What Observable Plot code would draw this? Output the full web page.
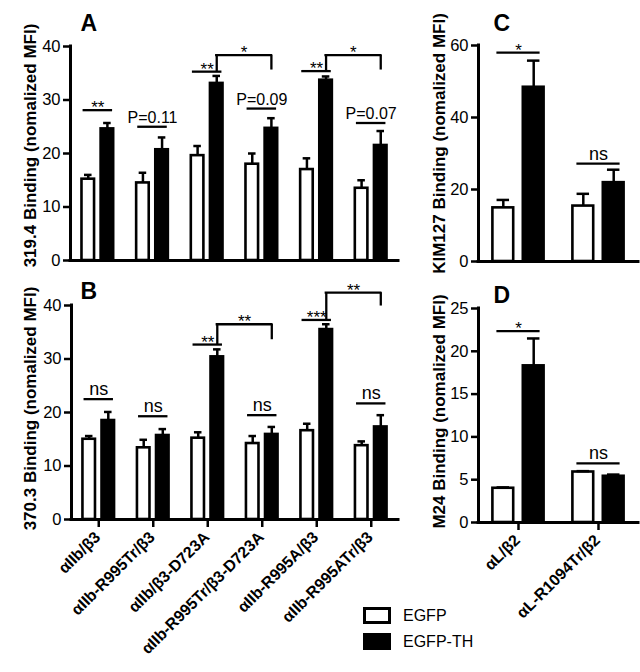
<!DOCTYPE html>
<html>
<head>
<meta charset="utf-8">
<script src="https://cdn.jsdelivr.net/npm/d3@7"></script>
<script src="https://cdn.jsdelivr.net/npm/@observablehq/plot@0.6"></script>
<style>
  html, body { margin: 0; padding: 0; background: #fff; }
  #fig { position: relative; width: 640px; height: 672px; font-family: "Liberation Sans", Arial, sans-serif; overflow: hidden; }
  #fig svg { position: absolute; }
  .legend { position: absolute; left: 363px; top: 607px; font-size: 16px; color: #000; }
  .legend .row { display: flex; align-items: center; height: 17px; margin-bottom: 9px; }
  .legend .sw { width: 28px; height: 17px; box-sizing: border-box; border: 3px solid #000; margin-right: 12px; }
</style>
</head>
<body>
<div id="fig"></div>
<script>
// ---------- data ----------
const groupsAB = ["αIIb/β3", "αIIb-R995Tr/β3", "αIIb/β3-D723A", "αIIb-R995Tr/β3-D723A", "αIIb-R995A/β3", "αIIb-R995ATr/β3"];
const groupsCD = ["αL/β2", "αL-R1094Tr/β2"];
const seriesNames = ["EGFP", "EGFP-TH"];

// Panel A: 319.4 binding
const A_egfp    = [15.2, 14.5, 19.6, 18.0, 17.0, 13.5];
const A_egfpErr = [0.8, 1.9, 1.8, 2.0, 2.1, 1.5];
const A_th      = [24.6, 20.7, 33.1, 24.7, 33.7, 21.5];
const A_thErr   = [1.1, 2.3, 1.4, 1.9, 0.7, 2.7];
const A_sigLabel = ["**", "P=0.11", "**", "P=0.09", "**", "P=0.07"];
const A_sigY     = [28.1, 25.0, 35.3, 28.4, 35.4, 25.7];
const A_brFrom = [2, 4], A_brTo = [3, 5], A_brLabel = ["*", "*"], A_brTop = [38.4, 38.4], A_brRightBottom = [35.6, 35.6];
const A_yTicks = [0, 10, 20, 30, 40];

// Panel B: 370.3 binding
const B_egfp    = [15.0, 13.4, 15.2, 14.2, 16.6, 13.8];
const B_egfpErr = [0.6, 1.5, 1.1, 1.4, 1.3, 0.8];
const B_th      = [18.5, 15.7, 30.4, 15.9, 35.5, 17.3];
const B_thErr   = [1.6, 1.2, 1.4, 1.4, 1.0, 2.2];
const B_sigLabel = ["ns", "ns", "**", "ns", "***", "ns"];
const B_sigY     = [22.5, 19.3, 32.7, 19.5, 37.3, 21.7];
const B_brFrom = [2, 4], B_brTo = [3, 5], B_brLabel = ["**", "**"], B_brTop = [36.5, 42.4], B_brRightBottom = [33.6, 39.9];
const B_yTicks = [0, 10, 20, 30, 40];

// Panel C: KIM127 binding
const C_egfp    = [14.9, 15.4];
const C_egfpErr = [2.2, 3.4];
const C_th      = [48.4, 21.9];
const C_thErr   = [7.4, 3.6];
const C_sigLabel = ["*", "ns"];
const C_sigY     = [58.0, 27.2];
const C_yTicks = [0, 20, 40, 60];

// Panel D: M24 binding
const D_egfp    = [4.0, 5.9];
const D_egfpErr = [0.1, 0.1];
const D_th      = [18.3, 5.4];
const D_thErr   = [3.2, 0.2];
const D_sigLabel = ["*", "ns"];
const D_sigY     = [22.35, 6.9];
const D_yTicks = [0, 5, 10, 15, 20, 25];

// ---------- drawing ----------
const FONT = "Liberation Sans, Arial, sans-serif";

function panel(cfg) {
  const n = cfg.groups.length;
  const gap = 0.06, outer = cfg.outer, capFrac = 0.3;
  const bw = outer - gap;
  const bars = [];
  cfg.groups.forEach((g, i) => {
    const c = i + 0.5;
    bars.push({i, s: 0, x1: c - outer, x2: c - gap, v: cfg.egfp[i], e: cfg.egfpErr[i]});
    bars.push({i, s: 1, x1: c + gap, x2: c + outer, v: cfg.th[i], e: cfg.thErr[i]});
  });
  bars.forEach(d => { d.c = (d.x1 + d.x2) / 2; d.top = d.v + d.e; });
  const blackCenter = i => i + 0.5 + (gap + outer) / 2;

  const sig = cfg.sigLabel.map((l, i) => ({i, label: l, y: cfg.sigY[i]}));
  const isStar = d => /^\*+$/.test(d.label);
  const br = (cfg.brFrom || []).map((f, k) => ({
    a: blackCenter(f), b: blackCenter(cfg.brTo[k]),
    bottomA: cfg.sigY[f], bottomB: cfg.brRightBottom[k],
    top: cfg.brTop[k], label: cfg.brLabel[k]
  }));

  const yMax = cfg.yDomain[1];
  const marks = [
    Plot.rect(bars.filter(d => d.s === 0), {x1: "x1", x2: "x2", y1: 0, y2: "v", fill: "white", stroke: "black", strokeWidth: 2.6}),
    Plot.rect(bars.filter(d => d.s === 1), {x1: "x1", x2: "x2", y1: 0, y2: "v", fill: "black", stroke: "black", strokeWidth: 2.6}),
    Plot.ruleX(bars, {x: "c", y1: "v", y2: "top", strokeWidth: 2.5}),
    Plot.ruleY(bars, {x1: d => d.c - bw * capFrac, x2: d => d.c + bw * capFrac, y: "top", strokeWidth: 2.5}),
    Plot.ruleY([0], {x1: 0, x2: n, strokeWidth: 3, strokeLinecap: "square"}),
    Plot.ruleX([0], {y1: 0, y2: yMax, strokeWidth: 3, strokeLinecap: "square"}),
    Plot.axisY({ticks: cfg.yTicks, tickSize: 7, tickPadding: 3, fontSize: 16.5, strokeWidth: 2.5, label: null, tickFormat: d => String(d)}),
    Plot.ruleY(sig, {x1: d => d.i + 0.5 - 0.27, x2: d => d.i + 0.5 + 0.27, y: "y", strokeWidth: 2.3}),
    Plot.text(sig.filter(isStar), {x: d => d.i + 0.5, y: "y", text: "label", dy: 3, lineAnchor: "bottom", fontSize: 17}),
    Plot.text(sig.filter(d => !isStar(d)), {x: d => d.i + 0.5, y: "y", text: "label", dy: -4, lineAnchor: "bottom", fontSize: cfg.sigFont}),
    Plot.ruleX(br, {x: "a", y1: "bottomA", y2: "top", strokeWidth: 2.3}),
    Plot.ruleX(br, {x: "b", y1: "bottomB", y2: "top", strokeWidth: 2.3}),
    Plot.ruleY(br, {x1: "a", x2: "b", y: "top", strokeWidth: 2.3, strokeLinecap: "square"}),
    Plot.text(br, {x: d => (d.a + d.b) / 2, y: "top", text: "label", dy: 3, lineAnchor: "bottom", fontSize: 17}),
    Plot.text([cfg.yLabel], {frameAnchor: "left", text: d => d, rotate: -90, dx: cfg.labelX - cfg.marginLeft, dy: cfg.labelDy, textAnchor: "middle", lineAnchor: "bottom", fontSize: 17, fontWeight: "bold"}),
    Plot.text([cfg.letter], {frameAnchor: "top-left", text: d => d, dx: cfg.letterDx, dy: cfg.letterDy, textAnchor: "start", lineAnchor: "bottom", fontSize: 23, fontWeight: "bold"})
  ];
  if (cfg.showX) {
    const ticks = cfg.groups.map((g, i) => ({i, g}));
    marks.push(Plot.axisX({
      ticks: ticks.map(d => d.i + 0.5), tickFormat: () => "",
      tickSize: 8, strokeWidth: 2.5, label: null
    }));
    marks.push(Plot.text(ticks, {
      x: d => d.i + 0.5, y: 0, text: "g", rotate: -45,
      dy: 15, dx: -1, textAnchor: "end", lineAnchor: "middle",
      fontSize: 16, fontWeight: "bold"
    }));
  }
  const svg = Plot.plot({
    width: cfg.width, height: cfg.height,
    marginLeft: cfg.marginLeft, marginRight: cfg.marginRight,
    marginTop: cfg.marginTop, marginBottom: cfg.marginBottom,
    x: {type: "linear", domain: [0, n], axis: null},
    y: {domain: cfg.yDomain, axis: null},
    style: {fontFamily: FONT, background: "transparent", overflow: "visible", color: "black"},
    marks
  });
  svg.style.left = cfg.left + "px";
  svg.style.top = cfg.top + "px";
  return svg;
}

const fig = document.getElementById("fig");

fig.append(panel({
  groups: groupsAB, egfp: A_egfp, egfpErr: A_egfpErr, th: A_th, thErr: A_thErr,
  sigLabel: A_sigLabel, sigY: A_sigY, brFrom: A_brFrom, brTo: A_brTo, brLabel: A_brLabel, brTop: A_brTop, brRightBottom: A_brRightBottom,
  yDomain: [0, 40], yTicks: A_yTicks, yLabel: "319.4 Binding (nomalized MFI)", letter: "A", showX: false,
  left: 0, top: 0, width: 420, height: 272, marginLeft: 70, marginRight: 22, marginTop: 46, marginBottom: 12,
  outer: 0.29, sigFont: 16, labelX: 35, labelDy: -8, letterDx: 10, letterDy: -16
}));

fig.append(panel({
  groups: groupsAB, egfp: B_egfp, egfpErr: B_egfpErr, th: B_th, thErr: B_thErr,
  sigLabel: B_sigLabel, sigY: B_sigY, brFrom: B_brFrom, brTo: B_brTo, brLabel: B_brLabel, brTop: B_brTop, brRightBottom: B_brRightBottom,
  yDomain: [0, 40], yTicks: B_yTicks, yLabel: "370.3 Binding (nomalized MFI)", letter: "B", showX: true,
  left: 0, top: 259, width: 420, height: 413, marginLeft: 71, marginRight: 22, marginTop: 46, marginBottom: 153,
  outer: 0.29, sigFont: 18, labelX: 35, labelDy: -4, letterDx: 9, letterDy: -7
}));

fig.append(panel({
  groups: groupsCD, egfp: C_egfp, egfpErr: C_egfpErr, th: C_th, thErr: C_thErr,
  sigLabel: C_sigLabel, sigY: C_sigY,
  yDomain: [0, 60], yTicks: C_yTicks, yLabel: "KIM127 Binding (nomalized MFI)", letter: "C", showX: false,
  left: 420, top: 0, width: 220, height: 273, marginLeft: 58, marginRight: 2, marginTop: 45, marginBottom: 12,
  outer: 0.32, sigFont: 18, labelX: 24, labelDy: -10, letterDx: 15, letterDy: -15
}));

fig.append(panel({
  groups: groupsCD, egfp: D_egfp, egfpErr: D_egfpErr, th: D_th, thErr: D_thErr,
  sigLabel: D_sigLabel, sigY: D_sigY,
  yDomain: [0, 25], yTicks: D_yTicks, yLabel: "M24 Binding (nomalized MFI)", letter: "D", showX: true,
  left: 420, top: 259, width: 220, height: 413, marginLeft: 58, marginRight: 2, marginTop: 49, marginBottom: 150,
  outer: 0.32, sigFont: 18, labelX: 24, labelDy: -4, letterDx: 15, letterDy: -6
}));

// legend
const legend = document.createElement("div");
legend.className = "legend";
seriesNames.forEach((name, k) => {
  const row = document.createElement("div");
  row.className = "row";
  const sw = document.createElement("div");
  sw.className = "sw";
  sw.style.background = k === 0 ? "#fff" : "#000";
  const t = document.createElement("span");
  t.textContent = name;
  row.append(sw, t);
  legend.append(row);
});
fig.append(legend);
</script>
</body>
</html>
